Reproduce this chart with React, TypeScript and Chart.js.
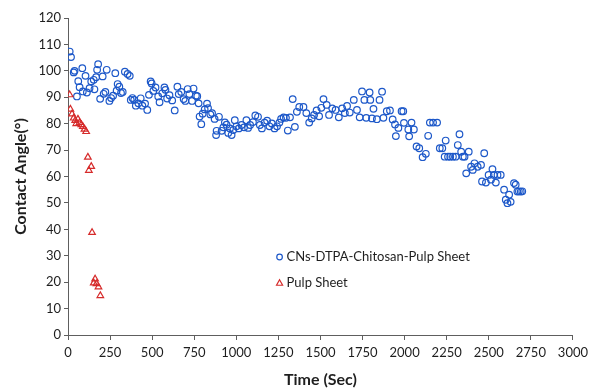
import React, { useEffect, useRef } from "react";
import { Chart, registerables } from "chart.js";

Chart.register(...registerables);

const seriesNames = ["CNs-DTPA-Chitosan-Pulp Sheet", "Pulp Sheet"];

const blueTime = [
  10, 18, 34, 39, 53, 61, 69, 85, 88, 104, 112, 128, 138, 153, 157, 167, 173, 179, 191, 206,
  212, 222, 230, 246, 256, 268, 281, 289, 295, 305, 315, 325, 338, 354, 367, 373, 383, 393, 403, 418,
  432, 442, 458, 471, 481, 491, 497, 507, 520, 536, 544, 560, 573, 579, 589, 603, 619, 634, 650, 658,
  673, 687, 697, 711, 721, 737, 746, 760, 768, 776, 782, 792, 800, 812, 826, 832, 846, 856, 871, 880,
  883, 897, 913, 923, 932, 942, 952, 962, 972, 982, 991, 1001, 1015, 1031, 1046, 1060, 1070, 1082, 1099, 1113,
  1129, 1140, 1152, 1168, 1183, 1197, 1211, 1227, 1242, 1256, 1266, 1281, 1295, 1306, 1319, 1335, 1348, 1360, 1374, 1399,
  1416, 1433, 1448, 1462, 1477, 1492, 1505, 1518, 1537, 1551, 1570, 1590, 1609, 1629, 1645, 1658, 1674, 1698, 1717, 1733,
  1747, 1761, 1772, 1792, 1796, 1806, 1815, 1835, 1851, 1866, 1874, 1894, 1913, 1929, 1943, 1948, 1963, 1982, 1992, 1996,
  2022, 2027, 2041, 2055, 2071, 2087, 2107, 2126, 2140, 2150, 2169, 2193, 2209, 2224, 2238, 2244, 2258, 2271, 2287, 2303,
  2316, 2326, 2336, 2346, 2356, 2366, 2381, 2395, 2405, 2415, 2434, 2454, 2460, 2473, 2483, 2499, 2513, 2522, 2530, 2542,
  2552, 2571, 2591, 2601, 2611, 2621, 2630, 2650, 2660, 2670, 2679, 2690, 2699,
];

const blueAngle = [
  107.3, 105.2, 99.4, 100, 90.3, 96.1, 93.8, 101, 92.2, 98.1, 91.8, 93.4, 96, 96.6, 93, 97.6, 100.4, 102.5, 89.4, 97.9,
  91.3, 92, 100.4, 88.6, 89.7, 90.6, 99.1, 92.5, 95, 94, 91.6, 92, 99.7, 98.8, 98.1, 89, 89.7, 89, 86.8, 87.7,
  89.6, 86.8, 87.6, 85.2, 90.9, 96, 95.2, 92.4, 93.7, 90.3, 88.1, 91.5, 93.7, 92.8, 89.5, 90.8, 88.8, 85, 94, 91.2,
  92, 89.3, 88.6, 93.1, 91.2, 88.6, 93.3, 90.6, 90.4, 87.7, 82.7, 79.8, 83.8, 85.4, 87.6, 85.9, 83.5, 84, 81.8, 75.7,
  77.3, 82.6, 77.3, 78.6, 80.5, 79.6, 76.5, 78.2, 75.7, 77.6, 81.3, 79, 78.2, 79.5, 78.6, 81.3, 78.4, 79.5, 80.6, 83.1,
  82.6, 79.5, 78.2, 80.4, 81.1, 79, 80.1, 78.2, 79, 80.4, 81.8, 82.4, 82.2, 77.4, 82.4, 89.3, 78.8, 84.5, 86.3, 86.3,
  84, 80.4, 82, 83.3, 85, 82.8, 86, 89.3, 87.1, 83.3, 85.8, 85.2, 82.4, 85.8, 84, 86.7, 84.2, 89, 85.2, 82.4,
  92.2, 89, 82.2, 91.8, 89, 82, 85.6, 81.7, 89, 92.1, 82.2, 84.7, 85, 81.6, 79.7, 75.3, 78.4, 84.7, 84.7, 80.3,
  77.8, 75.2, 80.4, 77.8, 71.4, 70.7, 67.3, 68.6, 75.4, 80.4, 80.4, 80.4, 70.7, 70.7, 67.5, 73.6, 67.5, 67.5, 67.5, 67.5,
  71.9, 76, 69.4, 67.5, 67.5, 61.2, 69.4, 63.7, 62.5, 65, 63.7, 64.4, 58.1, 68.8, 57.7, 60.6, 58.8, 62.8, 60.6, 57.7,
  60.6, 60.6, 55, 51.2, 49.9, 53.1, 50.4, 57.5, 56.9, 54.3, 54.4, 54.3, 54.4,
];

const redTime = [10, 14, 24, 34, 43, 49, 59, 69, 79, 88, 98, 108, 118, 124, 138, 143, 153, 161, 169, 181, 192];
const redAngle = [90.9, 85.5, 83.7, 82.1, 81.2, 80, 81.7, 80.4, 79.6, 78.9, 77.9, 77, 67.3, 62.3, 63.8, 38.8, 19.7, 21.2, 19.4, 18.2, 14.9];

const xMin = 0;
const xMax = 3000;
const xStep = 250;
const yMin = 0;
const yMax = 120;
const yStep = 10;

const xTitle = "Time (Sec)";
const yTitle = "Contact Angle(°)";

const BLUE = "#1d58c9";
const RED = "#d62b2b";
const AXIS = "#5e5e5e";
const TEXT = "#1e1e1e";
const FONT = "Lato, 'Open Sans', sans-serif";

const legendPlugin = {
  id: "innerLegend",
  afterDraw(chart: any) {
    const { ctx, chartArea } = chart;
    const w = chartArea.right - chartArea.left;
    const h = chartArea.bottom - chartArea.top;
    const x = chartArea.left + w * 0.419;
    const rows = [chartArea.top + h * 0.754, chartArea.top + h * 0.836];
    ctx.save();
    ctx.font = `13px ${FONT}`;
    ctx.textBaseline = "middle";
    ctx.textAlign = "left";
    chart.data.datasets.forEach((ds: any, i: number) => {
      const y = rows[i];
      ctx.strokeStyle = ds.borderColor;
      ctx.lineWidth = 1.2;
      ctx.beginPath();
      if (ds.pointStyle === "triangle") {
        const r = 3.2;
        ctx.moveTo(x, y - r);
        ctx.lineTo(x + r * 0.95, y + r * 0.7);
        ctx.lineTo(x - r * 0.95, y + r * 0.7);
        ctx.closePath();
      } else {
        ctx.arc(x, y, 2.8, 0, Math.PI * 2);
      }
      ctx.stroke();
      ctx.fillStyle = TEXT;
      ctx.fillText(ds.label, x + 7, y);
    });
    ctx.restore();
  },
};

export default function App() {
  const ref = useRef<HTMLCanvasElement | null>(null);

  useEffect(() => {
    document.body.style.margin = "0";
    const canvas = ref.current;
    if (!canvas) return;
    const blue = blueTime.map((t, i) => ({ x: t, y: blueAngle[i] }));
    const red = redTime.map((t, i) => ({ x: t, y: redAngle[i] }));
    const chart = new Chart(canvas, {
      type: "scatter",
      data: {
        datasets: [
          {
            label: seriesNames[0],
            data: blue,
            pointStyle: "circle",
            pointRadius: 3.3,
            pointBorderWidth: 1.2,
            borderColor: BLUE,
            backgroundColor: "rgba(0,0,0,0)",
            order: 2,
          },
          {
            label: seriesNames[1],
            data: red,
            pointStyle: "triangle",
            pointRadius: 3.8,
            pointBorderWidth: 1.2,
            borderColor: RED,
            backgroundColor: "rgba(0,0,0,0)",
            order: 1,
          },
        ],
      },
      options: {
        animation: false,
        responsive: false,
        layout: { padding: { top: 18, right: 15, left: 0, bottom: 0 } },
        plugins: {
          legend: { display: false },
          tooltip: { enabled: false },
        },
        scales: {
          x: {
            type: "linear",
            min: xMin,
            max: xMax,
            afterFit: (s: any) => {
              s.height = 54;
            },
            ticks: {
              stepSize: xStep,
              color: TEXT,
              padding: 5,
              font: { family: FONT, size: 13 },
              maxRotation: 0,
              callback: (v: any) => String(v),
            },
            grid: {
              display: true,
              drawOnChartArea: false,
              drawTicks: true,
              tickLength: 5,
              color: AXIS,
            },
            border: { display: true, color: AXIS, width: 1 },
            title: {
              display: true,
              text: xTitle,
              color: TEXT,
              font: { family: FONT, size: 16, weight: "bold" },
              padding: { top: 0, bottom: 0 },
            },
          },
          y: {
            type: "linear",
            min: yMin,
            max: yMax,
            afterFit: (s: any) => {
              s.width = 68;
            },
            ticks: {
              stepSize: yStep,
              color: TEXT,
              padding: 3,
              font: { family: FONT, size: 13 },
              callback: (v: any) => String(v),
            },
            grid: {
              display: true,
              drawOnChartArea: false,
              drawTicks: true,
              tickLength: 4,
              color: AXIS,
            },
            border: { display: true, color: AXIS, width: 1 },
            title: {
              display: true,
              text: yTitle,
              color: TEXT,
              font: { family: FONT, size: 16, weight: "bold" },
              padding: { top: 11, bottom: 0 },
            },
          },
        },
      },
      plugins: [legendPlugin],
    } as any);
    return () => chart.destroy();
  }, []);

  return (
    <div style={{ width: 593, height: 389, background: "#fff" }}>
      <canvas ref={ref} width={593} height={389} style={{ display: "block" }} />
    </div>
  );
}
